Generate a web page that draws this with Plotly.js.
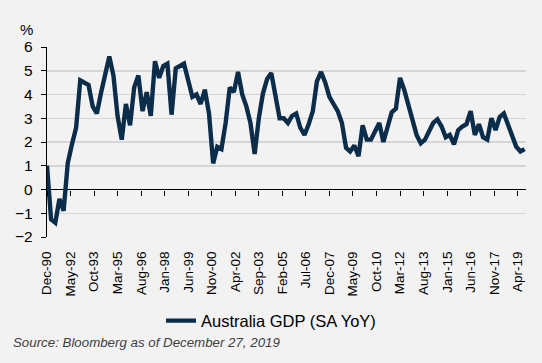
<!DOCTYPE html>
<html>
<head>
<meta charset="utf-8">
<script src="https://cdn.plot.ly/plotly-3.0.1.min.js"></script>
<style>
html,body{margin:0;padding:0;background:#f2f2f2;}
#chart{width:542px;height:363px;}
</style>
</head>
<body>
<div id="chart"></div>
<script>
// Quarterly observations, Dec-1990 .. Sep-2019
const startYear = 1990, startMonth = 12;
const gdpYoY = [
  1.0, -1.26, -1.4, -0.4, -0.9, 1.1, 1.9, 2.6, 4.6, 4.5,
  4.4, 3.5, 3.2, 4.05, 4.9, 5.6, 4.8, 3.1, 2.1, 3.6,
  2.7, 4.3, 4.8, 3.3, 4.1, 3.1, 5.4, 4.7, 5.2, 5.3,
  3.15, 5.1, 5.2, 5.3, 4.6, 3.9, 4.0, 3.6, 4.2, 3.2,
  1.1, 1.8, 1.7, 2.8, 4.3, 4.1, 4.95, 4.0, 3.5, 2.8,
  1.5, 3.0, 4.05, 4.65, 4.9, 4.05, 3.0, 3.0, 2.8, 3.1,
  3.2, 2.6, 2.3, 2.75, 3.3, 4.55, 4.95, 4.5, 3.9, 3.6,
  3.3, 2.8, 1.75, 1.6, 1.85, 1.4, 2.7, 2.1, 2.1, 2.45,
  2.8, 2.0, 2.6, 3.25, 3.4, 4.7, 4.2, 3.6, 2.95, 2.3,
  1.95, 2.1, 2.45, 2.8, 2.95, 2.65, 2.2, 2.3, 1.9, 2.5,
  2.65, 2.75, 3.3, 2.3, 2.75, 2.2, 2.1, 3.0, 2.5, 3.05,
  3.2, 2.7, 2.25, 1.8, 1.6, 1.7
];
const seriesName = "Australia GDP (SA YoY)";
const yTicks = [-2, -1, 0, 1, 2, 3, 4, 5, 6];
const sourceText = "Source: Bloomberg as of December 27, 2019";

function qDate(i){
  const m0 = (startYear*12 + (startMonth-1)) + 3*i;
  const y = Math.floor(m0/12), m = m0%12 + 1;
  return y + "-" + String(m).padStart(2,"0") + "-01";
}
const dates = gdpYoY.map((_, i) => qDate(i));
const xRange = ["1990-12-01", "2019-10-01"];

const lineColor = "#0c2d4a";
const traces = [
  {x: dates, y: gdpYoY, type: "scatter", mode: "lines", name: seriesName,
   line: {color: lineColor, width: 4.4}, hoverinfo: "skip"},
  {x: dates, y: gdpYoY, xaxis: "x2", type: "scatter", mode: "lines",
   showlegend: false, line: {color: lineColor, width: 0}, hoverinfo: "skip"}
];

const layout = {
  width: 542, height: 363,
  paper_bgcolor: "#f2f2f2", plot_bgcolor: "#f2f2f2",
  margin: {l: 47, r: 16, t: 47, b: 126},
  font: {family: "Arial, 'Liberation Sans', sans-serif", color: "#000"},
  showlegend: true,
  legend: {orientation: "h", xref: "container", x: 0.5, xanchor: "center",
           yref: "container", y: 0.116, yanchor: "middle",
           font: {size: 16.5, color: "#000"}, bgcolor: "rgba(0,0,0,0)"},
  xaxis: {type: "date", range: xRange, tick0: "1990-12-01", dtick: "M17",
          tickformat: "%b-%y", tickangle: -90, ticks: "outside", ticklen: 8,
          tickcolor: "rgba(0,0,0,0)", showgrid: false,
          zeroline: false, showline: false, tickfont: {size: 13.5},
          fixedrange: true},
  xaxis2: {type: "date", range: xRange, tick0: "1990-12-01", dtick: "M17",
           overlaying: "x", anchor: "free", position: 0.25, side: "bottom",
           ticks: "outside", ticklen: 5, tickwidth: 1, tickcolor: "#000",
           showticklabels: false, showgrid: false, zeroline: false, showline: false},
  yaxis: {range: [-2, 6], tickvals: yTicks, ticks: "outside", ticklen: 5,
          ticklabelstandoff: 5,
          tickcolor: "#000", showline: true, linecolor: "#000", linewidth: 1.2,
          gridcolor: "#d5d5d5", gridwidth: 1.5, zeroline: true, zerolinecolor: "#000",
          zerolinewidth: 1.2, tickfont: {size: 15.5}, fixedrange: true},
  annotations: [
    {text: "%", xref: "paper", yref: "paper", x: 0, y: 1, xanchor: "right",
     yanchor: "bottom", xshift: -12, yshift: 7, showarrow: false,
     font: {size: 15, color: "#000"}},
    {text: "<i>" + sourceText + "</i>", xref: "paper", yref: "paper",
     x: -0.075, y: -0.557, xanchor: "left", yanchor: "middle", showarrow: false,
     font: {size: 13.3, color: "#404040", family: "'Liberation Sans Narrow', 'Arial Narrow', Arial, sans-serif"}}
  ]
};

Plotly.newPlot("chart", traces, layout, {staticPlot: true, displayModeBar: false});
</script>
</body>
</html>
